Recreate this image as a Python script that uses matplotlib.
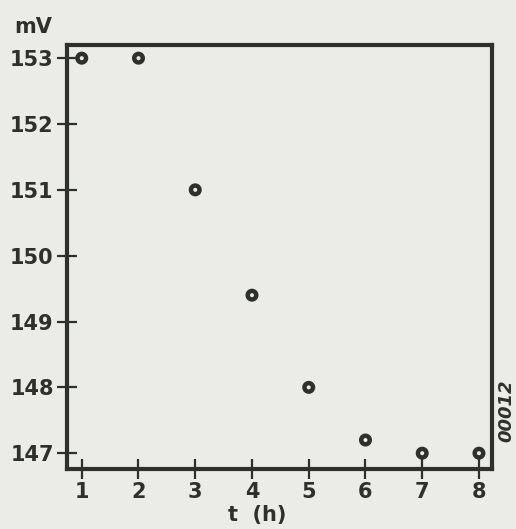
import matplotlib.pyplot as plt

""" Data read off the chart """
hours = [1, 2, 3, 4, 5, 6, 7, 8]
millivolts = [153.0, 153.0, 151.0, 149.4, 148.0, 147.2, 147.0, 147.0]
x_ticks = [1, 2, 3, 4, 5, 6, 7, 8]
y_ticks = [147, 148, 149, 150, 151, 152, 153]

paper = '#ebebe8'
ink = '#2e302c'

fig = plt.figure(figsize=(5.16, 5.29), dpi=100, facecolor=paper)
ax = fig.add_axes([67/516, 60/529, 425/516, 424/529], facecolor=paper)

ax.scatter(hours, millivolts, s=38, facecolors='none', edgecolors=ink, linewidths=3.2, zorder=3, clip_on=False)

ax.set_xlim(0.74, 8.23)
ax.set_ylim(146.76, 153.2)
ax.set_xticks(x_ticks)
ax.set_yticks(y_ticks)
ax.tick_params(direction='inout', length=15, width=1.6, color=ink, labelsize=15, labelcolor=ink, pad=2)
for lbl in ax.get_xticklabels() + ax.get_yticklabels():
    lbl.set_fontweight('bold')
for s in ax.spines.values():
    s.set_linewidth(3)
    s.set_color(ink)

fig.text(33/516, 1 - 27/529, 'mV', ha='center', va='center', fontsize=15, fontweight='bold', color=ink)
fig.text(257/516, 1 - 515/529, 't  (h)', ha='center', va='center', fontsize=15, fontweight='bold', color=ink)
fig.text(506/516, 1 - 411/529, '00012', ha='center', va='center', rotation=90, fontsize=13, fontstyle='italic', fontweight='bold', color=ink)

fig.savefig('out.png', dpi=100, facecolor=paper)
